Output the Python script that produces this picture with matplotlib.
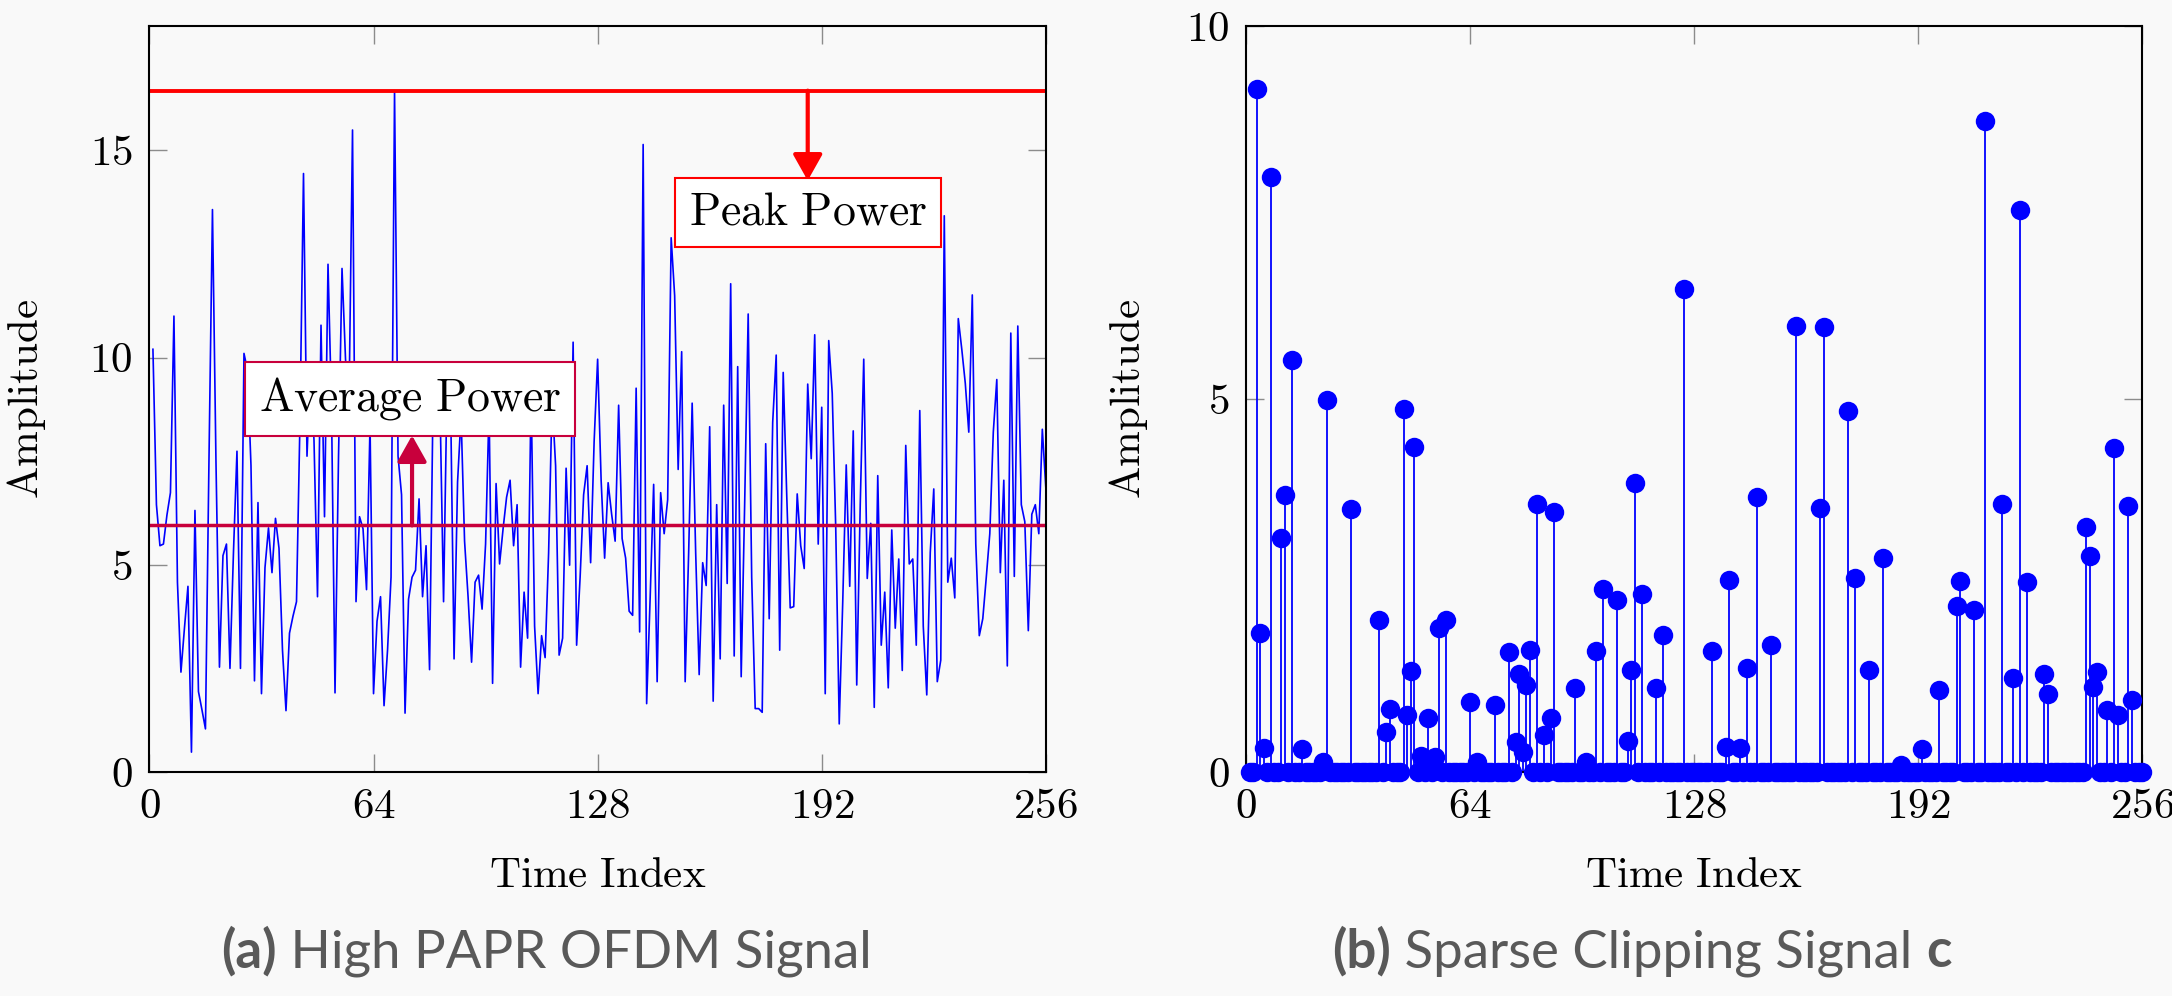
import matplotlib.pyplot as plt
import numpy as np

# (a) amplitude of the OFDM signal, samples 1..256
amplitude = [
    10.2, 6.45, 5.46, 5.5, 6.2, 6.74, 11.0, 4.58, 2.41, 3.47, 4.48, 0.48, 6.31, 1.94, 1.5, 1.04,
    7.5, 13.57, 7.5, 2.53, 5.22, 5.5, 2.5, 5.3, 7.74, 2.5, 10.1, 9.7, 7.4, 2.2, 6.5, 1.89,
    4.93, 5.89, 4.81, 6.12, 5.4, 2.94, 1.48, 3.35, 3.76, 4.11, 8.5, 14.44, 7.62, 9.85, 8.0, 4.23,
    10.78, 6.16, 12.25, 8.8, 1.91, 7.6, 12.15, 9.96, 8.9, 15.49, 4.11, 6.16, 5.87, 4.4, 8.38, 1.89,
    3.64, 4.23, 1.6, 2.94, 4.7, 16.44, 7.62, 6.69, 1.42, 4.17, 4.7, 4.87, 6.59, 4.23, 5.46, 2.47,
    9.0, 9.3, 8.8, 4.11, 9.4, 9.0, 2.73, 7.0, 8.6, 5.57, 4.23, 2.65, 4.58, 4.75, 3.93, 5.5,
    8.8, 2.14, 6.96, 5.02, 5.87, 6.63, 7.04, 5.46, 6.45, 2.53, 4.34, 3.23, 9.2, 3.52, 1.89, 3.29,
    2.76, 5.28, 9.0, 7.39, 2.82, 3.23, 7.33, 4.99, 10.37, 3.06, 4.7, 6.69, 7.39, 5.05, 7.97, 9.96,
    7.04, 5.16, 6.98, 6.22, 5.57, 8.85, 5.63, 5.16, 3.88, 3.78, 9.26, 3.38, 15.14, 1.65, 4.2, 6.94,
    2.18, 6.74, 5.75, 6.57, 12.89, 11.49, 7.3, 10.14, 2.18, 5.3, 8.9, 5.3, 2.35, 5.05, 4.5, 8.33,
    1.71, 6.45, 2.73, 8.85, 4.55, 11.78, 2.8, 9.78, 2.3, 6.5, 11.05, 4.7, 1.53, 1.53, 1.44, 7.92,
    3.7, 8.44, 10.06, 2.94, 9.64, 6.7, 3.96, 3.99, 6.71, 5.46, 4.91, 9.36, 7.56, 10.55, 5.5, 8.8,
    1.89, 10.41, 9.14, 5.9, 1.16, 4.1, 7.41, 4.48, 8.23, 2.1, 6.45, 9.96, 4.67, 6.0, 1.56, 7.15,
    3.06, 4.34, 2.03, 5.84, 3.47, 5.14, 2.45, 7.88, 5.02, 5.14, 3.06, 8.72, 3.52, 1.86, 5.3, 6.83,
    2.18, 2.7, 13.42, 4.58, 5.16, 4.2, 10.94, 10.2, 9.38, 8.2, 11.51, 5.5, 3.29, 3.7, 4.7, 5.75,
    8.2, 9.47, 4.81, 7.04, 2.56, 10.59, 4.72, 10.76, 6.45, 6.04, 3.41, 6.22, 6.45, 5.75, 8.27, 6.86,
]
avg_level = 5.95

# (b) sparse clipping signal: only the nonzero samples
clip_index = [3, 4, 5, 7, 10, 11, 13, 16, 22, 23, 30, 38, 40, 41, 45, 46, 47, 48, 50, 52,
              54, 55, 57, 64, 66, 71, 75, 77, 78, 79, 80, 81, 83, 85, 87, 88, 94, 97, 100, 102,
              106, 109, 110, 111, 113, 117, 119, 125, 133, 137, 138, 141, 143, 146, 150, 157,
              164, 165, 172, 174, 178, 182, 187, 193, 198, 203, 204, 208, 211, 216, 219, 221,
              223, 228, 229, 240, 241, 242, 243, 246, 248, 249, 252, 253]
clip_value = [9.15, 1.86, 0.32, 7.98, 3.14, 3.71, 5.52, 0.31, 0.14, 4.98, 3.52, 2.04, 0.53, 0.84,
              4.86, 0.76, 1.36, 4.36, 0.21, 0.72, 0.2, 1.93, 2.04, 0.94, 0.14, 0.9, 1.61, 0.4,
              1.31, 0.27, 1.17, 1.63, 3.59, 0.49, 0.72, 3.49, 1.13, 0.14, 1.62, 2.45, 2.31, 0.41,
              1.37, 3.87, 2.38, 1.13, 1.84, 6.48, 1.62, 0.33, 2.57, 0.32, 1.39, 3.69, 1.7, 5.98,
              3.54, 5.96, 4.84, 2.6, 1.37, 2.87, 0.1, 0.31, 1.1, 2.22, 2.56, 2.17, 8.73, 3.59,
              1.26, 7.53, 2.55, 1.32, 1.05, 3.29, 2.89, 1.14, 1.34, 0.83, 4.34, 0.77, 3.57, 0.97]

x_ticks = [0, 64, 128, 192, 256]
y_ticks_a = [0, 5, 10, 15]
y_ticks_b = [0, 5, 10]

BLUE = '#0000ff'
RED = '#ff0000'
CRIMSON = '#c8003c'
BG = '#f9f9f9'
FS = 31

plt.rcParams['font.family'] = 'serif'
plt.rcParams['font.serif'] = ['cmr10']
plt.rcParams['mathtext.fontset'] = 'cm'
plt.rcParams['axes.formatter.use_mathtext'] = True

n = np.arange(1, len(amplitude) + 1)
clip = np.zeros(len(amplitude))
clip[np.array(clip_index) - 1] = clip_value


def style(ax, yticks, ymax, ylab_x):
    ax.set_facecolor(BG)
    ax.set_xlim(0, 256)
    ax.set_ylim(0, ymax)
    ax.set_xticks(x_ticks, labels=['$%d$' % t for t in x_ticks])
    ax.set_yticks(yticks, labels=['$%d$' % t for t in yticks])
    ax.tick_params(direction='in', length=13, width=1, color='#8c8c8c', labelsize=FS,
                   pad=12, top=True, right=True)
    for s in ax.spines.values():
        s.set_linewidth(1.5)
    ax.set_xlabel(r'$\mathrm{Time\ Index}$', fontsize=FS)
    ax.set_ylabel(r'$\mathrm{Amplitude}$', fontsize=FS)
    ax.xaxis.set_label_coords(0.5, -0.115)
    ax.yaxis.set_label_coords(ylab_x, 0.5)


fig = plt.figure(figsize=(21.72, 9.96), dpi=100, facecolor=BG)
ax1 = fig.add_axes([0.0688, 0.2249, 0.4127, 0.749])
ax2 = fig.add_axes([0.5737, 0.2249, 0.4125, 0.749])

# left: OFDM signal with peak and average levels
peak_level = max(amplitude)
ax1.plot(n, amplitude, color=BLUE, lw=1.2)
ax1.axhline(peak_level, color=RED, lw=2.8)
ax1.axhline(avg_level, color=CRIMSON, lw=2.5)
style(ax1, y_ticks_a, 18, -0.113)

box_kw = dict(ha='center', va='center', fontsize=33, zorder=5)
ax1.text(188, 13.5, r'$\mathrm{Peak\ Power}$',
         bbox=dict(boxstyle='square,pad=0.3', fc='white', ec=RED, lw=1.5), **box_kw)
ax1.text(74.5, 9.0, r'$\mathrm{Average\ Power}$',
         bbox=dict(boxstyle='square,pad=0.3', fc='white', ec=CRIMSON, lw=1.5), **box_kw)
ax1.annotate('', xy=(188, 14.27), xytext=(188, peak_level),
             arrowprops=dict(arrowstyle='-|>,head_length=0.8,head_width=0.45', color=RED,
                             lw=3, shrinkA=0, shrinkB=0, mutation_scale=20))
ax1.annotate('', xy=(75, 8.12), xytext=(75, avg_level),
             arrowprops=dict(arrowstyle='-|>,head_length=0.8,head_width=0.45', color=CRIMSON,
                             lw=3, shrinkA=0, shrinkB=0, mutation_scale=20))

# right: sparse clipping signal
markers, stems, base = ax2.stem(n, clip)
plt.setp(stems, color=BLUE, lw=1.3)
markers.set_color(BLUE)
markers.set_markersize(14)
markers.set_markeredgewidth(0)
markers.set_clip_on(False)
markers.set_zorder(4)
base.set_visible(False)
style(ax2, y_ticks_b, 10, -0.107)

# sub-captions
Annotation = plt.matplotlib.text.Annotation
cap_kw = dict(fontsize=38, color='#595959', family='Lato', va='baseline')
for x0, tag, rest in [(0.102, '(a)', ' High PAPR OFDM Signal'),
                      (0.6135, '(b)', ' Sparse Clipping Signal ')]:
    t1 = fig.text(x0, 0.029, tag, fontweight='bold', **cap_kw)
    a2 = fig.add_artist(Annotation(rest, xy=(1, 0.029), xycoords=(t1, 'figure fraction'),
                                   **cap_kw))
    if tag == '(b)':
        fig.add_artist(Annotation('c', xy=(1, 0.029), xycoords=(a2, 'figure fraction'),
                                  fontweight='bold', **cap_kw))

fig.savefig('out.png', dpi=100, facecolor=BG)
